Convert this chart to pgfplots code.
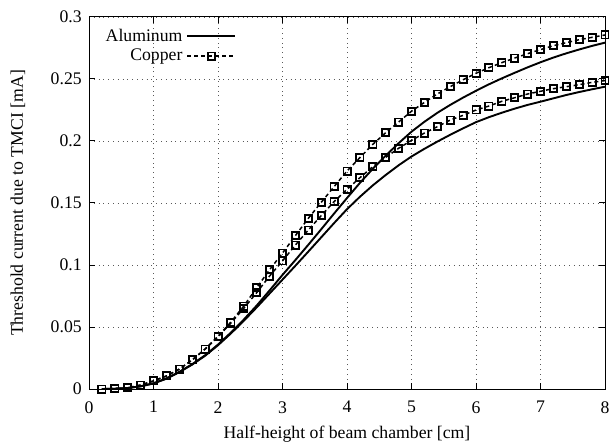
\documentclass[border=0pt]{standalone}
\usepackage{fontspec}
\setmainfont{Liberation Serif}
\usepackage{pgfplots}
\usepackage{pgfplotstable}
\pgfplotsset{compat=1.18}

% x, aluminium (two cases), copper (two cases)
\pgfplotstableread{
x    alA    alB    cuA    cuB
0.2  0.0000 0.0000 0.0000 0.0000
0.4  0.0002 0.0002 0.0003 0.0003
0.6  0.0008 0.0008 0.0010 0.0010
0.8  0.0022 0.0021 0.0032 0.0032
1.0  0.0046 0.0045 0.0065 0.0065
1.2  0.0085 0.0083 0.0105 0.0105
1.4  0.0138 0.0136 0.0160 0.0160
1.6  0.0200 0.0197 0.0234 0.0234
1.8  0.0272 0.0268 0.0322 0.0322
2.0  0.0358 0.0353 0.0425 0.0420
2.2  0.0455 0.0448 0.0540 0.0532
2.4  0.0560 0.0550 0.0669 0.0651
2.6  0.0673 0.0658 0.0817 0.0777
2.8  0.0795 0.0770 0.0962 0.0911
3.0  0.0920 0.0882 0.1096 0.1033
3.2  0.1040 0.0994 0.1237 0.1161
3.4  0.1163 0.1108 0.1376 0.1282
3.6  0.1288 0.1223 0.1505 0.1398
3.8  0.1415 0.1338 0.1632 0.1511
4.0  0.1540 0.1450 0.1758 0.1610
4.2  0.1662 0.1550 0.1866 0.1704
4.4  0.1776 0.1642 0.1973 0.1793
4.6  0.1882 0.1726 0.2067 0.1868
4.8  0.1982 0.1804 0.2153 0.1941
5.0  0.2075 0.1875 0.2240 0.2005
5.2  0.2155 0.1937 0.2311 0.2064
5.4  0.2227 0.1995 0.2379 0.2115
5.6  0.2291 0.2050 0.2438 0.2169
5.8  0.2350 0.2102 0.2494 0.2207
6.0  0.2405 0.2152 0.2546 0.2250
6.2  0.2457 0.2192 0.2591 0.2282
6.4  0.2505 0.2228 0.2632 0.2320
6.6  0.2550 0.2261 0.2669 0.2349
6.8  0.2594 0.2291 0.2704 0.2379
7.0  0.2635 0.2317 0.2737 0.2401
7.2  0.2673 0.2344 0.2769 0.2422
7.4  0.2707 0.2371 0.2793 0.2438
7.6  0.2738 0.2395 0.2817 0.2454
7.8  0.2767 0.2417 0.2836 0.2473
8.0  0.2793 0.2438 0.2855 0.2487
}\chamber

\begin{document}
\fontsize{8.85}{10.6}\selectfont
\begin{tikzpicture}
\begin{axis}[
    name=ax,
    scale only axis,
    width=258pt, height=186pt,
    xmin=0, xmax=8, ymin=0, ymax=0.3,
    xtick={0,1,...,8},
    ytick={0,0.05,0.1,0.15,0.2,0.25,0.3},
    scaled y ticks=false,
    yticklabel style={/pgf/number format/fixed, /pgf/number format/precision=2, xshift=-0.5pt},
    xticklabel style={yshift=-3pt},
    /pgf/number format/assume math mode=true,
    tick align=inside,
    major tick length=3pt,
    tick style={black, line width=0.5pt},
    axis line style={line width=0.5pt},
    grid=major,
    major grid style={dotted, black!65, line width=0.4pt},
    xlabel={Half-height of beam chamber [cm]},
    ylabel={Threshold current due to TMCI [mA]},
    every axis x label/.style={at={(axis description cs:0.5,-0.122)}, anchor=center},
    every axis y label/.style={at={(axis description cs:-0.1376,0.5)}, anchor=center, rotate=90},
    legend plot pos=right,
    legend cell align=right,
    legend style={at={(rel axis cs:0.02,0.985)}, anchor=north west, draw=none, fill=none,
        row sep=-1.5pt, inner sep=1pt},
    legend image code/.code={\draw[#1, mark repeat=2, mark phase=2]
        plot coordinates {(0pt,0pt) (12pt,0pt) (24pt,0pt)};},
    al/.style={black, solid, line width=0.95pt, no markers},
    cu/.style={black, line width=0.75pt, dash pattern=on 2pt off 1.5pt,
        mark=square, mark size=1.8pt, mark options={solid, line width=0.9pt}},
]
\addplot[al] table[x=x, y=alA] {\chamber};
\addlegendentry{Aluminum}
\addplot[cu] table[x=x, y=cuA] {\chamber};
\addlegendentry{Copper}
\addplot[al, forget plot] table[x=x, y=alB] {\chamber};
\addplot[cu, forget plot] table[x=x, y=cuB] {\chamber};
\end{axis}
\pgfresetboundingbox
\path[use as bounding box] ([xshift=-44.5pt, yshift=-27.5pt]ax.south west)
    rectangle ([xshift=2pt, yshift=8.5pt]ax.north east);
\end{tikzpicture}
\end{document}
